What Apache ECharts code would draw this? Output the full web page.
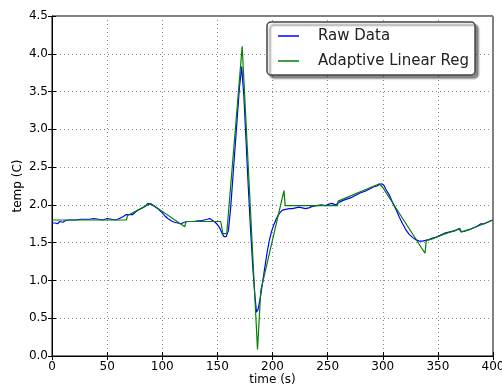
<!DOCTYPE html>
<html>
<head>
<meta charset="utf-8">
<script src="https://cdn.jsdelivr.net/npm/echarts@6/dist/echarts.min.js"></script>
<style>
  html, body { margin: 0; padding: 0; background: #fff; }
  #chart { width: 502px; height: 387px; }
</style>
</head>
<body>
<div id="chart"></div>
<script>
// raw sensor trace (time in s, temp in C)
const rawTime = [0, 1, 3, 5, 7, 10, 12, 15, 18, 22, 26, 30, 34, 38, 42, 46, 50, 54, 58, 61, 64, 67, 70, 73, 76, 79, 82, 85, 87, 89,
  92, 96, 99, 102, 105, 108, 111, 114, 117, 120, 123, 126, 129, 132, 135, 138, 141, 143, 145, 148, 150, 152, 154, 156, 158,
  160, 162, 164, 166, 168, 170, 172, 174, 176, 178, 180, 182, 184, 185.5, 187, 189, 191, 193, 195, 197, 199, 201, 203, 205,
  207, 209, 212, 215, 218, 221, 224, 227, 230, 233, 236, 240, 244, 248, 251, 254, 257, 260, 264, 268, 272, 276, 280, 284,
  288, 292, 295, 297, 299, 301, 303, 306, 309, 312, 315, 318, 321, 324, 327, 330, 333, 336, 339, 342, 345, 348, 351, 354,
  357, 360, 363, 366, 369, 371, 374, 377, 380, 383, 386, 389, 392, 395, 398, 400];
const rawTemp = [1.76, 1.77, 1.76, 1.75, 1.78, 1.77, 1.79, 1.80, 1.80, 1.80, 1.81, 1.81, 1.81, 1.82, 1.81, 1.80, 1.82, 1.81, 1.80, 1.82, 1.84, 1.87, 1.87, 1.87, 1.91, 1.94, 1.96, 1.99, 2.02, 2.01,
  1.99, 1.95, 1.91, 1.86, 1.82, 1.79, 1.77, 1.76, 1.75, 1.77, 1.78, 1.78, 1.78, 1.79, 1.79, 1.80, 1.81, 1.82, 1.80, 1.77, 1.74, 1.70, 1.63, 1.58, 1.58,
  1.66, 1.95, 2.35, 2.75, 3.15, 3.55, 3.83, 3.45, 2.85, 2.25, 1.70, 1.20, 0.80, 0.58, 0.62, 0.78, 0.97, 1.17, 1.36, 1.52, 1.64, 1.73, 1.80, 1.86,
  1.90, 1.93, 1.94, 1.95, 1.95, 1.96, 1.97, 1.96, 1.95, 1.96, 1.98, 1.99, 2.00, 1.99, 2.01, 2.02, 2.00, 2.03, 2.06, 2.08, 2.10, 2.13, 2.16, 2.18,
  2.21, 2.24, 2.25, 2.27, 2.28, 2.26, 2.20, 2.13, 2.03, 1.94, 1.84, 1.75, 1.67, 1.61, 1.57, 1.54, 1.52, 1.52, 1.53, 1.54, 1.56, 1.57, 1.59, 1.61,
  1.63, 1.64, 1.65, 1.66, 1.68, 1.65, 1.65, 1.67, 1.68, 1.70, 1.72, 1.75, 1.75, 1.77, 1.79, 1.80];

// adaptive linear regression breakpoints
const fitTime = [0, 67.5, 68.5, 89.5, 120.4, 121.5, 153, 155, 158.5, 172.5, 186.4, 189.4, 210.4, 211.5, 259, 259.5, 297, 300,
  338.3, 339.5, 345, 355, 365, 370, 371, 380, 390, 400];
const fitTemp = [1.80, 1.80, 1.86, 2.02, 1.71, 1.78, 1.78, 1.62, 1.62, 4.10, 0.085, 0.87, 2.19, 1.99, 1.99, 2.05, 2.28, 2.23,
  1.36, 1.53, 1.55, 1.61, 1.66, 1.69, 1.64, 1.68, 1.74, 1.80];

const xTicks = [0, 400, 50];
const yTicks = [0, 4.5, 0.5];

const chart = echarts.init(document.getElementById('chart'));

const font = 'DejaVu Sans';
const gridLine = { show: true, lineStyle: { color: '#888', type: [1, 3], width: 1 } };

const option = {
  animation: false,
  textStyle: { fontFamily: font },
  grid: {
    left: 52, right: 9, top: 16, bottom: 31,
    outerBoundsMode: 'none',
    show: true, borderColor: '#000', borderWidth: 1, backgroundColor: 'transparent'
  },
  legend: {
    orient: 'vertical',
    left: 267, top: 22,
    padding: [5, 6, 5, 11],
    itemGap: 7,
    itemWidth: 21, itemHeight: 1.5,
    icon: 'rect',
    backgroundColor: '#fff',
    borderColor: '#444', borderWidth: 1.5, borderRadius: 4,
    shadowColor: 'rgba(0,0,0,0.45)', shadowOffsetX: 3, shadowOffsetY: 3, shadowBlur: 2,
    textStyle: { fontFamily: font, fontSize: 15, color: '#222', lineHeight: 18, padding: [0, 0, 0, 14] },
    data: ['Raw Data', 'Adaptive Linear Reg']
  },
  xAxis: [{
    type: 'value', min: xTicks[0], max: xTicks[1], interval: xTicks[2],
    name: 'time (s)', nameLocation: 'middle', nameGap: 18, nameMoveOverlap: false,
    nameTextStyle: { fontFamily: font, fontSize: 12, color: '#000' },
    axisLine: { show: true, lineStyle: { color: '#000' } },
    axisTick: { show: true, inside: true, length: 4, lineStyle: { color: '#000' } },
    axisLabel: { fontFamily: font, fontSize: 12, color: '#000', margin: 5 },
    splitLine: gridLine
  }, {
    type: 'value', position: 'top', min: xTicks[0], max: xTicks[1], interval: xTicks[2],
    axisLine: { show: false },
    axisTick: { show: true, inside: true, length: 4, lineStyle: { color: '#000' } },
    axisLabel: { show: false }, splitLine: { show: false }
  }],
  yAxis: [{
    type: 'value', min: yTicks[0], max: yTicks[1], interval: yTicks[2],
    name: 'temp (C)', nameLocation: 'middle', nameGap: 28, nameRotate: 90, nameMoveOverlap: false,
    nameTextStyle: { fontFamily: font, fontSize: 12, color: '#000' },
    axisLine: { show: true, lineStyle: { color: '#000' } },
    axisTick: { show: true, inside: true, length: 4, lineStyle: { color: '#000' } },
    axisLabel: { fontFamily: font, fontSize: 12, color: '#000', margin: 4, formatter: v => v.toFixed(1) },
    splitLine: gridLine
  }, {
    type: 'value', position: 'right', min: yTicks[0], max: yTicks[1], interval: yTicks[2],
    axisLine: { show: false },
    axisTick: { show: true, inside: true, length: 4, lineStyle: { color: '#000' } },
    axisLabel: { show: false }, splitLine: { show: false }
  }],
  series: [{
    name: 'Raw Data', type: 'line', showSymbol: false, symbol: 'none',
    data: rawTime.map((t, i) => [t, rawTemp[i]]),
    lineStyle: { color: '#0000ff', width: 1.2 }, itemStyle: { color: '#0000ff' }
  }, {
    name: 'Adaptive Linear Reg', type: 'line', showSymbol: false, symbol: 'none',
    data: fitTime.map((t, i) => [t, fitTemp[i]]),
    lineStyle: { color: '#008000', width: 1.2 }, itemStyle: { color: '#008000' }
  }]
};

chart.setOption(option);
</script>
</body>
</html>
